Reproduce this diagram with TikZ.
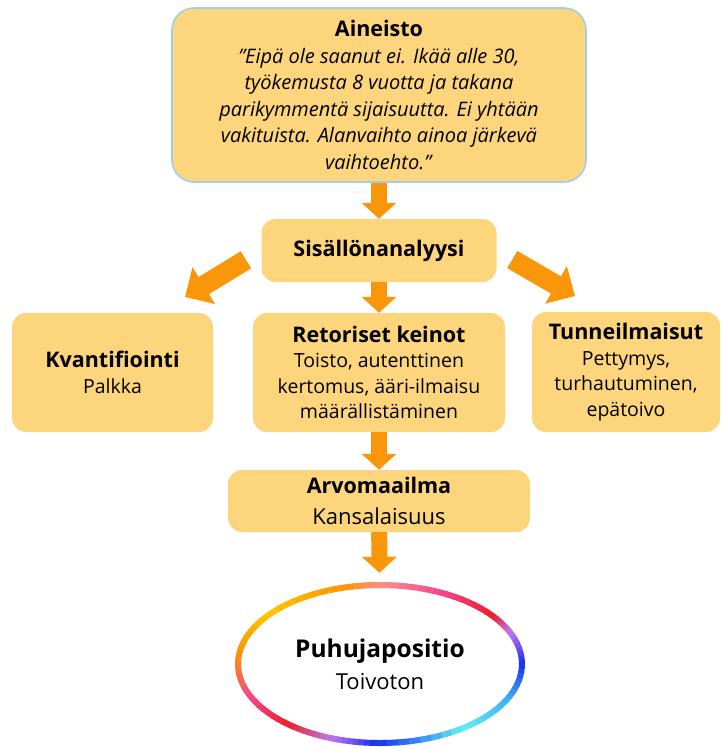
\documentclass[tikz,border=0pt]{standalone}
\usepackage{fontspec}
\setmainfont{Open Sans}
\usetikzlibrary{arrows.meta,shapes.geometric}

\definecolor{boxfill}{RGB}{253,213,125}
\definecolor{boxline}{RGB}{160,205,235}
\definecolor{arrowfill}{RGB}{250,150,10}
% colours of the ring
\definecolor{rblue}{RGB}{25,45,245}
\definecolor{rlilac}{RGB}{190,120,240}
\definecolor{rred}{RGB}{240,30,40}
\definecolor{rpink}{RGB}{245,70,140}
\definecolor{rsalmon}{RGB}{250,140,140}
\definecolor{rorange}{RGB}{255,150,0}
\definecolor{ryellow}{RGB}{255,200,0}
\definecolor{rcyan}{RGB}{100,240,240}
\definecolor{rsky}{RGB}{60,170,245}

\newcommand{\boxtitle}[1]{{\fontsize{21.5}{26}\selectfont\bfseries #1}}

\begin{document}
\begin{tikzpicture}[x=1pt,y=-1pt]
    \useasboundingbox (0,0) rectangle (722,749);

    \begin{scope}[every node/.style={rectangle, rounded corners=14pt, fill=boxfill, align=center, inner sep=0pt, font=\fontsize{19.5}{25.5}\selectfont}]
        \node (aineisto) at (379,95) [minimum width=414pt, minimum height=174pt, rounded corners=22pt, draw=boxline, line width=1.6pt, font=\fontsize{20}{26.5}\selectfont]
            {\boxtitle{Aineisto}\\
             \textit{”Eipä ole saanut ei. Ikää alle 30,}\\
             \textit{työkemusta 8 vuotta ja takana}\\
             \textit{parikymmentä sijaisuutta. Ei yhtään}\\
             \textit{vakituista. Alanvaihto ainoa järkevä}\\
             \textit{vaihtoehto.”}};
        \node (analyysi) at (379,250.5) [minimum width=235pt, minimum height=63pt] {\boxtitle{Sisällönanalyysi}};
        \node (kvant) at (112.5,372.5) [minimum width=201pt, minimum height=119pt] {\boxtitle{Kvantifiointi}\\ Palkka};
        \node (retor) at (379,372.5) [minimum width=252pt, minimum height=119pt]
            {\boxtitle{Retoriset keinot}\\ Toisto, autenttinen\\ kertomus, ääri-ilmaisu\\ määrällistäminen};
        \node (tunne) at (626,372) [minimum width=188pt, minimum height=120pt]
            {\boxtitle{Tunneilmaisut}\\ Pettymys,\\ turhautuminen,\\ epätoivo};
        \node (arvo) at (379,501) [minimum width=302pt, minimum height=62pt, font=\fontsize{22}{31}\selectfont]
            {\boxtitle{Arvomaailma}\\ Kansalaisuus};
        \node (positio) at (380,664) [ellipse, fill=white, minimum width=290pt, minimum height=164pt, font=\fontsize{22}{32}\selectfont]
            {{\fontsize{24.5}{32}\selectfont\bfseries Puhujapositio}\\ Toivoton};
    \end{scope}

    % rainbow ring round the last node
    \begin{scope}[ringline/.style={line width=6pt}]
        \foreach \a/\b/\ca/\cb in {0/24/rblue/rlilac, 24/38/rlilac/rred, 38/65/rred/rpink, 65/88/rpink/rsalmon,
                88/105/rsalmon/rorange, 105/140/rorange/ryellow, 140/170/ryellow/rorange, 170/205/rorange/rpink,
                205/230/rpink/rred, 230/250/rred/rlilac, 250/268/rlilac/rblue, 268/305/rblue/rcyan,
                305/335/rcyan/rsky, 335/360/rsky/rblue}
            \foreach \k in {0,...,7} {
                \pgfmathsetmacro{\sa}{\a+(\b-\a)*\k/8}
                \pgfmathsetmacro{\ea}{\a+(\b-\a)*(\k+1)/8+0.6}
                \pgfmathtruncatemacro{\pc}{100*(\k+0.5)/8}
                \draw[ringline, draw=\cb!\pc!\ca] (positio.center) ++(\sa:142pt and 79pt)
                    arc[start angle=\sa, end angle=\ea, x radius=142pt, y radius=79pt];
            }
    \end{scope}

    \coordinate (kvanttip) at (185,297);
    \coordinate (tunnetip) at (575,296);

    \begin{scope}[every edge/.style={draw, color=arrowfill, line width=16pt, -{Triangle[width=34pt,length=16pt]}}]
        \path (aineisto) edge (analyysi);
        \path (analyysi) edge (retor);
        \path (retor) edge (arvo);
        \path (arvo) edge[shorten >=9pt] (positio);
        \path (analyysi.west) edge[line width=20pt, -{Triangle[width=42pt,length=22pt]}, shorten <=18pt] (kvanttip);
        \path (analyysi.east) edge[line width=20pt, -{Triangle[width=42pt,length=22pt]}, shorten <=18pt] (tunnetip);
    \end{scope}
\end{tikzpicture}
\end{document}
